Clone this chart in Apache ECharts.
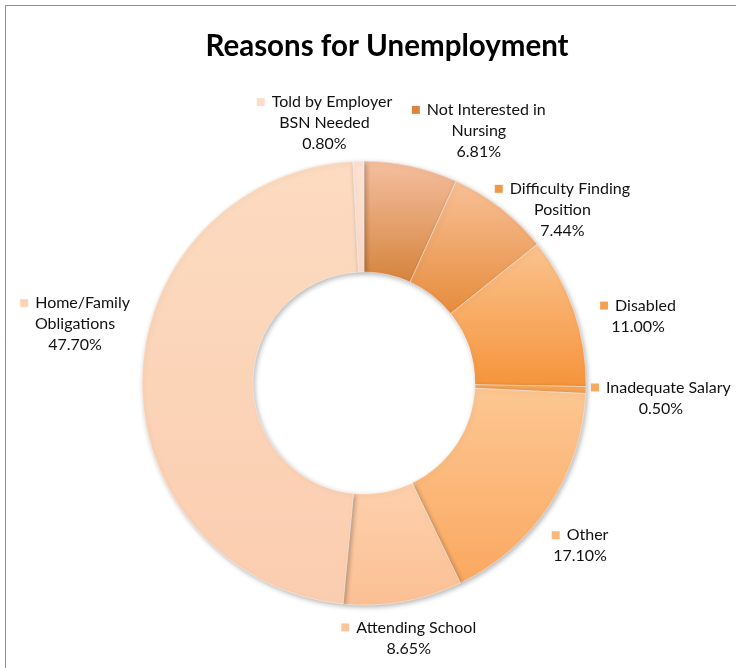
<!DOCTYPE html>
<html><head><meta charset="utf-8">
<script src="https://cdn.jsdelivr.net/npm/echarts@6/dist/echarts.min.js"></script>
<style>html,body{margin:0;padding:0;background:#fff}#c{width:736px;height:668px}</style>
</head><body><div id="c"></div>
<script>
// ---- data ----
const categories = ['Not Interested in Nursing','Difficulty Finding Position','Disabled','Inadequate Salary','Other','Attending School','Home/Family Obligations','Told by Employer BSN Needed'];
const labelLines = [['Not Interested in','Nursing'],['Difficulty Finding','Position'],['Disabled'],['Inadequate Salary'],['Other'],['Attending School'],['Home/Family','Obligations'],['Told by Employer','BSN Needed']];
const values = [6.81, 7.44, 11.00, 0.50, 17.10, 8.65, 47.70, 0.80];
const titleText = 'Reasons for Unemployment';

// ---- styles ----
const gradTop    = ['#F5BFA0','#F8C097','#FBC38F','#F8A85A','#FDC792','#FDD0AC','#FCDBC0','#FDE2D3'];
const gradBottom = ['#D5843C','#E68C3C','#F5943A','#F7A152','#FAA860','#FBC094','#FBCDB0','#FCDCCB'];
const markerColors = ['#D9843F','#EE9A48','#F5A050','#F8AA5E','#FBB878','#FCC69C','#FCD3B6','#FDDCCB'];
const lineLen  = [36, 0, 0, 0, 73, 37, 0, 38];
const lineLen2 = [55, 57, 59, 70, -35, -6, 62, 28];
const padTop    = [0, 4, 10, 16, 0, 0, 0, 0];
const padBottom = [0, 0, 0, 0, 0, 0, 108, 0];

const chart = echarts.init(document.getElementById('c'));
const font = 'Lato, "Open Sans", sans-serif';

const data = values.map((v, i) => ({
  name: categories[i],
  value: v,
  itemStyle: {
    color: new echarts.graphic.LinearGradient(0, 0, 0, 1, [
      {offset: 0, color: gradTop[i]}, {offset: 1, color: gradBottom[i]}
    ])
  },
  labelLine: {show: false, length: lineLen[i], length2: lineLen2[i]},
  label: {
    padding: [padTop[i], 0, padBottom[i], 0],
    formatter: () => {
      const ls = labelLines[i];
      let s = '{sq|}{g|}{t|' + ls[0] + '}';
      for (let k = 1; k < ls.length; k++) s += '\n{t|' + ls[k] + '}';
      s += '\n{t|' + v.toFixed(2) + '%}';
      return s;
    },
    rich: {
      sq: {width: 8, height: 8, backgroundColor: markerColors[i], align: 'center'},
      g: {width: 7, align: 'center'},
      t: {fontFamily: font, fontSize: 16, lineHeight: 21, color: '#111', align: 'center'}
    }
  }
}));

chart.setOption({
  backgroundColor: '#fff',
  animation: false,
  title: {
    text: titleText,
    left: 382, top: 26, textAlign: 'center',
    textStyle: {fontFamily: font, fontWeight: 'bold', fontSize: 29.5, color: '#000'}
  },
  graphic: [
    {type: 'line', shape: {x1: 5.5, y1: 5.5, x2: 736, y2: 5.5}, style: {stroke: '#8f8f8f', lineWidth: 1}, silent: true},
    {type: 'line', shape: {x1: 5.5, y1: 5.5, x2: 5.5, y2: 668}, style: {stroke: '#8f8f8f', lineWidth: 1}, silent: true}
  ],
  series: [{
    type: 'pie',
    center: [364, 383],
    radius: [111, 222],
    startAngle: 90,
    clockwise: true,
    avoidLabelOverlap: false,
    itemStyle: {
      borderColor: 'rgba(255,255,255,0.4)', borderWidth: 1,
      shadowBlur: 5, shadowOffsetX: 1.5, shadowOffsetY: 2, shadowColor: 'rgba(0,0,0,0.28)'
    },
    label: {show: true, position: 'outside', distanceToLabelLine: 5},
    labelLayout: () => ({align: 'center'}),
    emphasis: {disabled: true},
    data: data
  }]
});
</script></body></html>
